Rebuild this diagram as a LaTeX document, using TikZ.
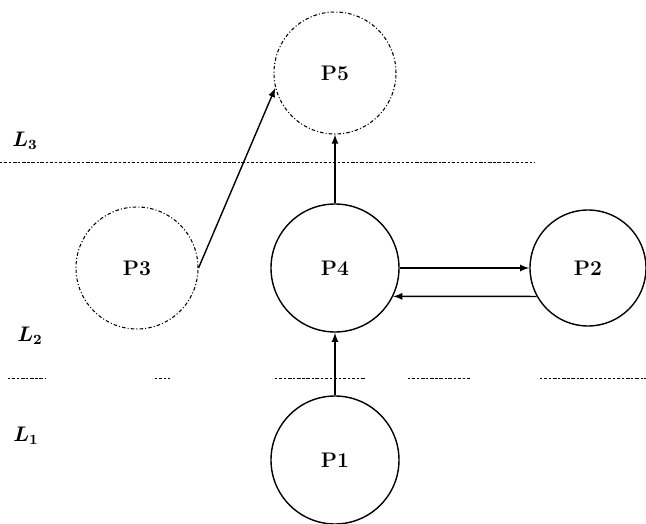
\documentclass[tikz,border=0pt]{standalone}
\usepackage{amsmath,amssymb}
\usepackage{xcolor}
\usepackage{tikz}
\usetikzlibrary{positioning}

\begin{document}
\begin{tikzpicture}[>=latex, scale=1.0, every node/.style={font=\large\bfseries},
    proc/.style={circle, draw, thick, minimum size=2.56cm, inner sep=0pt},
    ghost/.style={circle, draw, semithick, dash pattern=on 2pt off 1.2pt on 0.6pt off 1.2pt, minimum size=2.44cm, inner sep=0pt},
    layer/.style={thin, dash pattern=on 1.2pt off 1pt on 2pt off 1pt}]
  \useasboundingbox (0,0) rectangle (12.92,-10.48);

  \node [proc] at (6.70,-5.36) (P4) {P4};
  \node [ghost, above of=P4, node distance=3.9cm] (P5) {P5};
  \node [proc, below of=P4, node distance=3.84cm] (P1) {P1};
  \node [ghost, left of=P4, node distance=3.96cm] (P3) {P3};
  \node [proc, right of=P4, node distance=5.06cm, minimum size=2.32cm] (P2) {P2};

  % layer borders
  \draw [layer] (0,-3.24) -- (10.7,-3.24);
  \foreach \a/\b in {0.16/0.9, 3.1/3.4, 5.5/7.3, 8.16/9.4, 10.8/12.92}
    \draw [layer] (\a,-7.56) -- (\b,-7.56);

  \node at (0.5,-2.82) (L3) {$\boldsymbol{L_3}$};
  \node at (0.6,-6.72) (L2) {$\boldsymbol{L_2}$};
  \node at (0.52,-8.72) (L1) {$\boldsymbol{L_1}$};

  \draw [->,thick] (P1) -- (P4);
  \draw [->,thick] (P4) -- (P5);
  \draw [->,thick] (P3.0) -- (P5.194);
  \draw [->,thick] (P4) -- (P2);
  \draw [->,thick] (P2.209) -- (P4.334);
\end{tikzpicture}
\end{document}
